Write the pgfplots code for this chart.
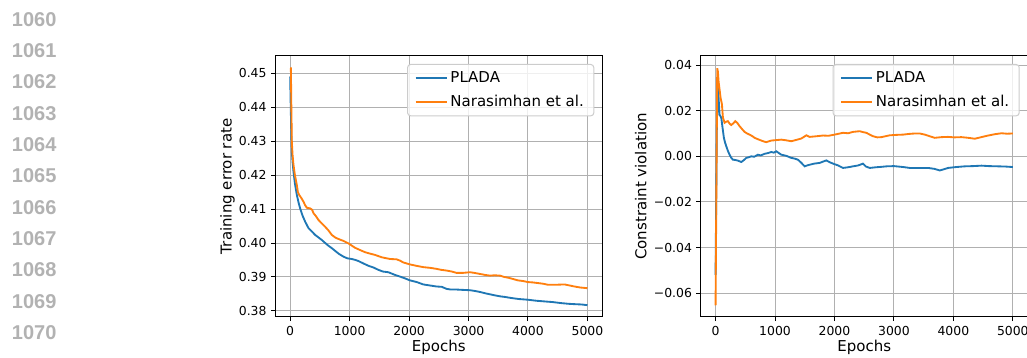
\documentclass[border=0pt]{standalone}
\usepackage{fontspec}
\setmainfont{DejaVu Sans}
\newfontfamily\lnfont{Liberation Sans}
\usepackage{pgfplots}
\pgfplotsset{compat=1.18}
\definecolor{mplblue}{HTML}{1F77B4}
\definecolor{mplorange}{HTML}{FF7F0E}
\definecolor{gridgray}{HTML}{B0B0B0}
\definecolor{legedge}{HTML}{CCCCCC}
\definecolor{lngray}{RGB}{178,178,178}
\newcommand{\tickfont}{\fontsize{12.4bp}{14bp}\selectfont}
\newcommand{\labfont}{\fontsize{15bp}{18bp}\selectfont}

\pgfplotstableread{
x y
0 0.4490
10 0.4400
20 0.4310
28 0.4269
40 0.4240
56 0.4210
80 0.4175
112 0.4142
140 0.4120
168 0.4102
210 0.4080
252 0.4063
308 0.4044
360 0.4035
420 0.4024
480 0.4016
532 0.4009
590 0.4000
644 0.3992
700 0.3985
756 0.3977
820 0.3968
896 0.3960
960 0.3955
1036 0.3953
1100 0.3950
1148 0.3947
1230 0.3940
1316 0.3933
1400 0.3928
1484 0.3921
1560 0.3916
1652 0.3914
1764 0.3906
1850 0.3901
1930 0.3896
2015 0.3890
2130 0.3885
2240 0.3878
2350 0.3875
2460 0.3872
2550 0.3871
2630 0.3865
2700 0.3863
2800 0.3863
2900 0.3862
3025 0.3861
3100 0.3859
3190 0.3856
3280 0.3852
3360 0.3849
3440 0.3846
3530 0.3843
3620 0.3841
3720 0.3838
3850 0.3835
4000 0.3833
4140 0.3830
4280 0.3828
4420 0.3826
4560 0.3823
4680 0.3821
4780 0.3820
4900 0.3819
5000 0.3817
}\errblue

\pgfplotstableread{
x y
0 0.4515
12 0.4515
20 0.4400
28 0.4299
40 0.4260
56 0.4230
80 0.4200
112 0.4171
130 0.4150
151 0.4142
190 0.4132
224 0.4122
250 0.4112
280 0.4104
336 0.4102
370 0.4098
392 0.4088
430 0.4080
476 0.4068
530 0.4058
588 0.4048
640 0.4038
700 0.4024
760 0.4016
812 0.4012
900 0.4006
980 0.3999
1040 0.3992
1092 0.3986
1180 0.3979
1260 0.3973
1340 0.3969
1428 0.3965
1540 0.3958
1680 0.3953
1790 0.3952
1850 0.3948
1900 0.3943
2015 0.3937
2120 0.3933
2240 0.3929
2350 0.3927
2460 0.3924
2540 0.3921
2630 0.3919
2720 0.3916
2800 0.3912
2900 0.3912
3025 0.3914
3100 0.3912
3190 0.3909
3280 0.3906
3360 0.3904
3440 0.3905
3530 0.3904
3600 0.3900
3665 0.3898
3750 0.3894
3830 0.3890
3920 0.3888
4000 0.3885
4080 0.3884
4170 0.3882
4260 0.3880
4335 0.3877
4450 0.3877
4615 0.3878
4700 0.3875
4780 0.3872
4880 0.3869
5000 0.3867
}\errorange

\pgfplotstableread{
x y
0 -0.0520
20 0.0100
35 0.0315
50 0.0260
67 0.0183
96 0.0169
120 0.0120
140 0.0081
160 0.0060
180 0.0044
210 0.0022
236 0.0007
260 -0.0005
291 -0.0015
330 -0.0016
375 -0.0019
432 -0.0025
470 -0.0018
517 -0.0007
560 -0.0004
601 0.0000
650 -0.0002
712 0.0007
760 0.0004
825 0.0011
880 0.0014
938 0.0019
980 0.0016
1022 0.0022
1060 0.0015
1106 0.0007
1190 0.0002
1274 -0.0007
1330 -0.0010
1386 -0.0015
1440 -0.0028
1498 -0.0044
1540 -0.0040
1582 -0.0037
1660 -0.0032
1751 -0.0029
1820 -0.0022
1863 -0.0018
1920 -0.0026
1975 -0.0032
2060 -0.0040
2143 -0.0051
2230 -0.0048
2312 -0.0044
2400 -0.0040
2480 -0.0032
2530 -0.0045
2593 -0.0051
2700 -0.0048
2800 -0.0046
2873 -0.0044
3000 -0.0043
3154 -0.0047
3266 -0.0051
3350 -0.0051
3450 -0.0051
3575 -0.0051
3680 -0.0055
3771 -0.0062
3850 -0.0056
3911 -0.0051
4050 -0.0047
4192 -0.0044
4330 -0.0043
4473 -0.0041
4600 -0.0043
4753 -0.0044
4880 -0.0045
5000 -0.0047
}\cvblue

\pgfplotstableread{
x y
0 -0.0653
15 -0.0100
28 0.0386
40 0.0370
50 0.0330
84 0.0257
107 0.0228
124 0.0169
152 0.0147
180 0.0152
207 0.0154
240 0.0142
264 0.0137
300 0.0145
332 0.0154
370 0.0145
404 0.0132
450 0.0118
488 0.0107
530 0.0100
572 0.0095
620 0.0088
657 0.0081
720 0.0074
769 0.0069
810 0.0065
853 0.0062
900 0.0066
938 0.0069
1020 0.0071
1106 0.0073
1190 0.0070
1274 0.0066
1360 0.0072
1443 0.0078
1527 0.0092
1582 0.0085
1700 0.0088
1806 0.0091
1900 0.0090
2003 0.0095
2143 0.0103
2230 0.0101
2312 0.0107
2424 0.0110
2480 0.0106
2537 0.0103
2600 0.0094
2648 0.0088
2720 0.0083
2790 0.0084
2929 0.0092
3050 0.0094
3154 0.0095
3250 0.0098
3350 0.0100
3434 0.0100
3519 0.0095
3600 0.0088
3687 0.0081
3800 0.0084
3911 0.0085
4020 0.0083
4136 0.0084
4250 0.0081
4360 0.0077
4470 0.0084
4584 0.0091
4700 0.0097
4810 0.0101
4900 0.0099
5000 0.0100
}\cvorange

\pgfplotsset{
  mplaxis/.style={
    scale only axis, width=327bp, height=260.7bp,
    xmin=-250, xmax=5250,
    xtick={0,1000,2000,3000,4000,5000},
    xticklabels={0,1000,2000,3000,4000,5000},
    scaled ticks=false,
    axis line style={black, line width=1bp},
    grid=major, major grid style={color=gridgray, line width=1bp},
    tick align=outside, major tick length=4.3bp,
    tick style={black, line width=1bp},
    tick pos=left,
    ticklabel style={font=\tickfont, inner sep=0pt},
    xticklabel style={anchor=north, yshift=-5.5bp},
    yticklabel style={anchor=east, xshift=-4.3bp},
    xlabel={Epochs},
    xlabel style={font=\labfont, inner sep=0pt, at={(axis description cs:0.5,0)}, anchor=base, yshift=-34.3bp},
    legend style={at={(1,1)}, anchor=north east, xshift=-8bp, yshift=-8bp,
      draw=legedge, line width=1bp, rounded corners=3bp, fill=white, fill opacity=0.8, text opacity=1,
      font=\labfont, inner xsep=7bp, inner ysep=4.5bp, row sep=5bp,
      nodes={inner sep=3bp}},
    legend cell align=left,
    legend image code/.code={\draw[##1, line width=1.85bp] (0bp,0bp) -- (31bp,0bp);},
    every axis plot/.append style={line width=1.85bp},
  }
}

\begin{document}
\begin{tikzpicture}
\path[use as bounding box] (0,0) rectangle (1027bp,358bp);
\foreach \n [count=\i from 0] in {1060,1061,1062,1063,1064,1065,1066,1067,1068,1069,1070}{
  \node[anchor=west, inner sep=0pt, text=lngray, font=\lnfont\bfseries\fontsize{20bp}{24bp}\selectfont]
    at (11.7bp, {(358-19.2-31.33*\i)*1bp}) {\n};
}
\begin{axis}[mplaxis, at={(275.3bp,41.3bp)}, anchor=south west,
  ymin=0.3783, ymax=0.4551,
  ytick={0.38,0.39,0.40,0.41,0.42,0.43,0.44,0.45},
  yticklabels={0.38,0.39,0.40,0.41,0.42,0.43,0.44,0.45},
  ylabel={Training error rate},
  ylabel style={font=\labfont, inner sep=0pt, at={(axis description cs:-0.1232,0.5)}, anchor=south},
]
\addplot[mplblue] table[x=x,y=y] {\errblue};
\addlegendentry{PLADA}
\addplot[mplorange] table[x=x,y=y] {\errorange};
\addlegendentry{Narasimhan et al.}
\end{axis}
\begin{axis}[mplaxis, at={(700.7bp,41.3bp)}, anchor=south west,
  ymin=-0.0703, ymax=0.04396,
  ytick={-0.06,-0.04,-0.02,0,0.02,0.04},
  yticklabels={−0.06,−0.04,−0.02,0.00,0.02,0.04},
  ylabel={Constraint violation},
  ylabel style={font=\labfont, inner sep=0pt, at={(axis description cs:-0.1651,0.5)}, anchor=south},
]
\addplot[mplblue] table[x=x,y=y] {\cvblue};
\addlegendentry{PLADA}
\addplot[mplorange] table[x=x,y=y] {\cvorange};
\addlegendentry{Narasimhan et al.}
\end{axis}
\end{tikzpicture}
\end{document}
